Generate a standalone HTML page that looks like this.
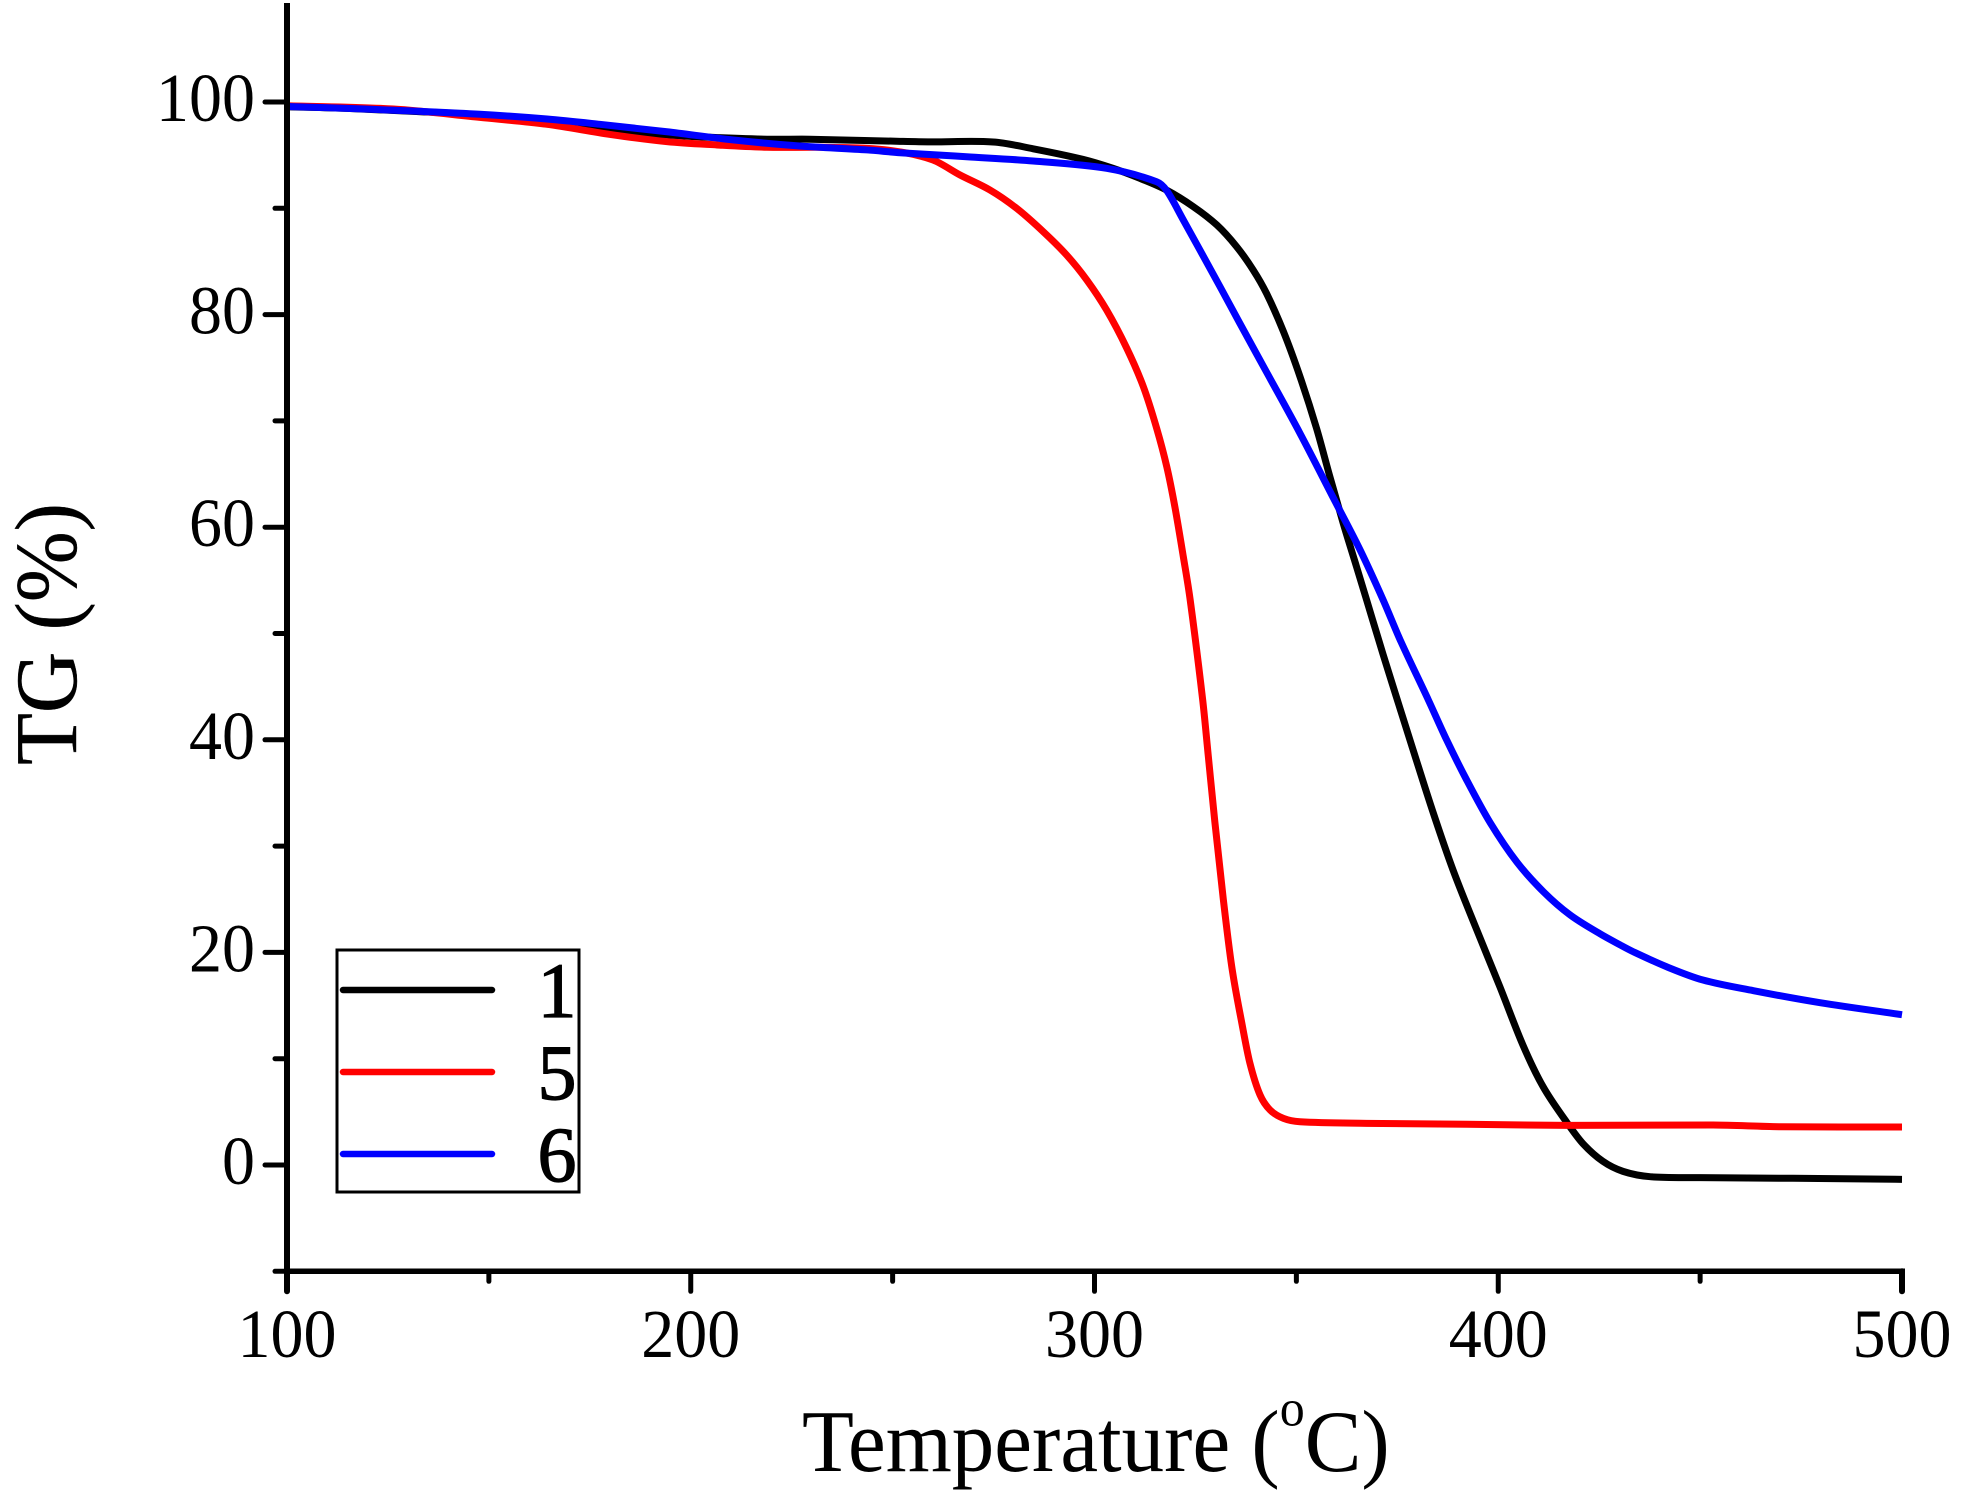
<!DOCTYPE html>
<html lang="en">
<head>
<meta charset="utf-8">
<title>TG curves</title>
<style>
html,body{margin:0;padding:0;background:#fff;}
svg{display:block;}
text{font-family:"Liberation Serif","Times New Roman",serif;fill:#000;}
</style>
</head>
<body>
<svg id="chart" xmlns="http://www.w3.org/2000/svg" width="1962" height="1500" viewBox="0 0 1962 1500">
  <rect x="0" y="0" width="1962" height="1500" fill="#fff"/>
  <g id="series" fill="none" stroke-linejoin="round" stroke-width="7">
    <path id="line-1" stroke="#000"/>
    <path id="line-5" stroke="#f00"/>
    <path id="line-6" stroke="#00f"/>
  </g>
  <g id="axes" stroke="#000" stroke-linecap="round">
    <line id="y-axis" stroke-width="6" stroke-linecap="butt"/>
    <line id="x-axis" stroke-width="5.5" stroke-linecap="butt"/>
  </g>
  <g id="x-ticks" stroke="#000" stroke-linecap="round"></g>
  <g id="y-ticks" stroke="#000" stroke-linecap="round"></g>
  <g id="x-labels" font-size="66" text-anchor="middle"></g>
  <g id="y-labels" font-size="66" text-anchor="end"></g>
  <text transform="translate(802,1471) scale(1,1.04)" font-size="85">Temperature (<tspan font-size="50" dy="-44">o</tspan><tspan dy="44">C)</tspan></text>
  <text transform="translate(76,765) rotate(-90) scale(1,1.03)" font-size="85" stroke="#000" stroke-width="0.4">TG (%)</text>
  <g>
    <rect x="337" y="950" width="242" height="242" fill="none" stroke="#000" stroke-width="3"/>
    <g>
      <line x1="343" x2="492" y1="990" y2="990" stroke="#000" stroke-width="6.5" stroke-linecap="round"/>
      <text x="557" y="1017" font-size="78" text-anchor="middle" stroke="#000" stroke-width="1.2">1</text>
    </g>
    <g>
      <line x1="343" x2="492" y1="1072" y2="1072" stroke="#f00" stroke-width="6.5" stroke-linecap="round"/>
      <text x="557" y="1099" font-size="78" text-anchor="middle" stroke="#000" stroke-width="1.2">5</text>
    </g>
    <g>
      <line x1="343" x2="492" y1="1154" y2="1154" stroke="#00f" stroke-width="6.5" stroke-linecap="round"/>
      <text x="557" y="1181" font-size="78" text-anchor="middle" stroke="#000" stroke-width="1.2">6</text>
    </g>
  </g>
</svg>
<script>
const temp1 = [100,114.9,131.2,147.8,164.4,177.5,194.1,204.8,218.9,229.5,251.8,259.3,274.9,284.8,297.2,304.6,311.2,317.8,324.5,330.3,335.2,339.3,342.6,346.8,350.9,355,358.3,361.6,364.9,367.4,371.5,374.8,378.9,383.8,388.8,394.7,400.4,406.1,411.1,417,421,425.9,430.9,437.6,450,473,500];
const tg1 = [99.55,99.4,99.12,98.8,98.3,97.6,96.9,96.68,96.5,96.5,96.3,96.25,96.24,95.6,94.6,93.76,92.82,91.72,90.15,88.43,86.39,84.2,82,78.4,74.16,69.3,64.75,60.37,56.28,53.15,48,44,39.06,33.24,27.75,22.1,16.77,11.29,7.37,4,2,0.35,-0.6,-1.1,-1.19,-1.25,-1.35];

const temp5 = [100,126.3,147.8,164.4,180,194.1,206.5,218.9,231.3,243.7,251.9,260,266.7,274.1,280.7,287.3,293.1,298.1,303,308,312.1,315.4,317.9,319.9,322,323.7,326.8,328.2,329.8,331.9,334,336.5,338.5,341,343.5,346.8,350.9,367.4,392.2,417,453.2,469.8,500];
const tg5 = [99.65,99.34,98.55,97.9,96.95,96.27,95.96,95.74,95.74,95.64,95.3,94.54,93.13,91.72,90,87.8,85.6,83.25,80.43,76.83,73.22,69.3,65.69,61.93,57.22,53.15,43.74,38.41,32.3,25,18.65,13.33,9.57,6.59,5.17,4.39,4.07,3.92,3.83,3.73,3.76,3.6,3.57];

const temp6 = [100,114.9,131.2,147.8,164.4,177.5,194.1,210.5,227,243.7,251.8,268.3,284.8,303,315.4,317.9,322,326.1,331.1,336,342.6,350.9,359.2,365.8,371.5,375.7,382.7,387.2,392.2,398,404.6,411.2,417.8,425.2,430.2,433.5,441.7,450.7,463.2,479.7,500];
const tg6 = [99.58,99.4,99.15,98.85,98.4,97.9,97.2,96.43,95.86,95.49,95.23,94.85,94.45,93.76,92.5,91.66,88.9,86.08,82.62,79.18,74.6,68.83,62.72,57.85,53.15,49.4,43.74,40,36.2,32.2,28.5,25.7,23.52,21.75,20.7,20.05,18.65,17.4,16.4,15.27,14.14];

const xTickLabels = [100,200,300,400,500];
const xMinorTicks = [150,250,350,450];
const yTickLabels = [100,80,60,40,20,0];
const yMinorTicks = [90,70,50,30,10,-10];

const NS = 'http://www.w3.org/2000/svg';
function sx(v){ return 287 + (v - 100) * 4.0375; }
function sy(v){ return 1165 - v * 10.63; }
function linePath(xs, ys){
  const px = xs.map(sx);
  const py = ys.map(sy);
  const n = px.length;
  function slope(i){
    const a = Math.max(i - 1, 0);
    const b = Math.min(i + 1, n - 1);
    return (py[b] - py[a]) / (px[b] - px[a]);
  }
  let d = 'M' + px[0].toFixed(2) + ' ' + py[0].toFixed(2);
  for (let i = 0; i < n - 1; i++) {
    const h = (px[i + 1] - px[i]) / 3;
    d += ' C' + (px[i] + h).toFixed(2) + ' ' + (py[i] + slope(i) * h).toFixed(2) +
         ' ' + (px[i + 1] - h).toFixed(2) + ' ' + (py[i + 1] - slope(i + 1) * h).toFixed(2) +
         ' ' + px[i + 1].toFixed(2) + ' ' + py[i + 1].toFixed(2);
  }
  return d;
}
function makeLine(x1, y1, x2, y2, w){
  const l = document.createElementNS(NS, 'line');
  l.setAttribute('x1', x1);
  l.setAttribute('y1', y1);
  l.setAttribute('x2', x2);
  l.setAttribute('y2', y2);
  l.setAttribute('stroke-width', w);
  return l;
}

document.getElementById('line-1').setAttribute('d', linePath(temp1, tg1));
document.getElementById('line-5').setAttribute('d', linePath(temp5, tg5));
document.getElementById('line-6').setAttribute('d', linePath(temp6, tg6));

const yAxisLine = document.getElementById('y-axis');
yAxisLine.setAttribute('x1', sx(100));
yAxisLine.setAttribute('x2', sx(100));
yAxisLine.setAttribute('y1', 3);
yAxisLine.setAttribute('y2', sy(-10));
const xAxisLine = document.getElementById('x-axis');
xAxisLine.setAttribute('x1', sx(100));
xAxisLine.setAttribute('x2', sx(500) + 3);
xAxisLine.setAttribute('y1', sy(-10));
xAxisLine.setAttribute('y2', sy(-10));

const xTickGroup = document.getElementById('x-ticks');
const xLabelGroup = document.getElementById('x-labels');
xTickLabels.forEach(function(v){
  const tick = makeLine(sx(v), sy(-10), sx(v), sy(-10) + 20, v === 100 || v === 500 ? 6 : 5);
  
  
  xTickGroup.appendChild(tick);
  const t = document.createElementNS(NS, 'text');
  
  
  t.setAttribute('transform', 'translate(' + sx(v) + ',1357) scale(1,1.05)');
  t.textContent = v;
  xLabelGroup.appendChild(t);
});
xMinorTicks.forEach(function(v){
  const tick = makeLine(sx(v), sy(-10), sx(v), sy(-10) + 10, 5);
  
  
  xTickGroup.appendChild(tick);
});

const yTickGroup = document.getElementById('y-ticks');
const yLabelGroup = document.getElementById('y-labels');
yTickLabels.forEach(function(v){
  const tick = makeLine(sx(100) - 22, sy(v), sx(100), sy(v), 5);
  
  
  yTickGroup.appendChild(tick);
  const t = document.createElementNS(NS, 'text');
  
  
  t.setAttribute('transform', 'translate(255,' + (sy(v) + 19) + ') scale(1,1.05)');
  t.textContent = v;
  yLabelGroup.appendChild(t);
});
yMinorTicks.forEach(function(v){
  const tick = makeLine(sx(100) - 12, sy(v), sx(100), sy(v), 5);
  
  
  yTickGroup.appendChild(tick);
});
</script>
</body>
</html>
